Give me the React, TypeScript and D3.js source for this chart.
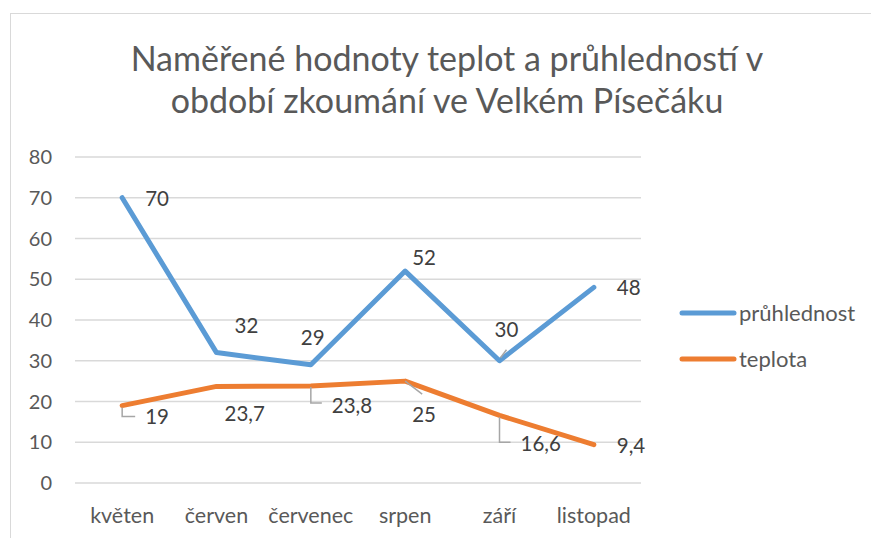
import React from 'react';
import * as d3 from 'd3';

// data
const months = ['květen', 'červen', 'červenec', 'srpen', 'září', 'listopad'];
const pruhlednost = [70, 32, 29, 52, 30, 48];
const teplota = [19, 23.7, 23.8, 25, 16.6, 9.4];
const yTicks = [0, 10, 20, 30, 40, 50, 60, 70, 80];
const seriesNames = ['průhlednost', 'teplota'];

const W = 871;
const H = 538;
const FONT = 'Lato, "Open Sans", sans-serif';
const colors = ['#5B9BD5', '#ED7D31'];

// label placement (text left edge + vertical centre, relative to the point) and leader lines
type Lab = { dx: number; dy: number; leader?: [number, number][] };
const blueLabels: Lab[] = [
    { dx: 23, dy: 1 },
    { dx: 18, dy: -27 },
    { dx: -10, dy: -27 },
    { dx: 7, dy: -13 },
    { dx: -5, dy: -31, leader: [[1, -3], [7, -11]] },
    { dx: 23, dy: 0 }
];
const orangeLabels: Lab[] = [
    { dx: 23, dy: 11, leader: [[0, 2], [0, 11], [13, 11]] },
    { dx: 8, dy: 27 },
    { dx: 21, dy: 20, leader: [[0, 1], [0, 17], [11, 17]] },
    { dx: 7, dy: 34, leader: [[0, 0], [17, 13]] },
    { dx: 21, dy: 28, leader: [[0, 2], [0, 27], [11, 27]] },
    { dx: 23, dy: 1 }
];

const fmt = (v: number) => String(v).replace('.', ',');

export default function App() {
    const x = d3.scalePoint<string>().domain(months).range([75, 641]).padding(0.5);
    const y = d3.scaleLinear().domain([0, 80]).range([483, 157]);

    const line = d3
        .line<number>()
        .x((_, i) => x(months[i])!)
        .y((d) => y(d));

    const series = [pruhlednost, teplota];
    const labels = [blueLabels, orangeLabels];

    return (
        <svg width={W} height={H} style={{ position: 'absolute', left: 0, top: 0, background: '#fff' }} fontFamily={FONT}>
            <rect x={10.5} y={13.5} width={900} height={600} fill="#fff" stroke="#d9d9d9" strokeWidth={1} />

            {/* title */}
            <text x={447} y={71} textAnchor="middle" fontSize={34} fill="#595959">
                Naměřené hodnoty teplot a průhledností v
            </text>
            <text x={447} y={113} textAnchor="middle" fontSize={34} fill="#595959">
                období zkoumání ve Velkém Písečáku
            </text>

            {/* gridlines + y ticks */}
            {yTicks.map((t) => (
                <g key={t}>
                    <line x1={75} x2={641} y1={y(t)} y2={y(t)} stroke="#d9d9d9" strokeWidth={1.5} />
                    <text x={52} y={y(t)} dy="0.35em" textAnchor="end" fontSize={20} fill="#595959">
                        {t}
                    </text>
                </g>
            ))}

            {/* x labels */}
            {months.map((m) => (
                <text key={m} x={x(m)} y={515} dy="0.35em" textAnchor="middle" fontSize={21.5} fill="#595959">
                    {m}
                </text>
            ))}

            {/* lines */}
            {series.map((s, i) => (
                <path
                    key={i}
                    d={line(s)!}
                    fill="none"
                    stroke={colors[i]}
                    strokeWidth={5}
                    strokeLinejoin="round"
                    strokeLinecap="round"
                />
            ))}

            {/* data labels */}
            {series.map((s, i) =>
                s.map((v, j) => {
                    const px = x(months[j])!;
                    const py = y(v);
                    const l = labels[i][j];
                    return (
                        <g key={`${i}-${j}`}>
                            {l.leader && (
                                <polyline
                                    points={l.leader.map(([a, b]) => `${px + a},${py + b}`).join(' ')}
                                    fill="none"
                                    stroke="#a6a6a6"
                                    strokeWidth={1.5}
                                />
                            )}
                            <text x={px + l.dx} y={py + l.dy} dy="0.35em" fontSize={20.5} fill="#404040">
                                {fmt(v)}
                            </text>
                        </g>
                    );
                })
            )}

            {/* legend */}
            {seriesNames.map((n, i) => {
                const ly = 313 + i * 46;
                return (
                    <g key={n}>
                        <line x1={682} x2={734} y1={ly} y2={ly} stroke={colors[i]} strokeWidth={5} strokeLinecap="round" />
                        <text x={739} y={ly} dy="0.35em" fontSize={22} fill="#595959">
                            {n}
                        </text>
                    </g>
                );
            })}
        </svg>
    );
}
